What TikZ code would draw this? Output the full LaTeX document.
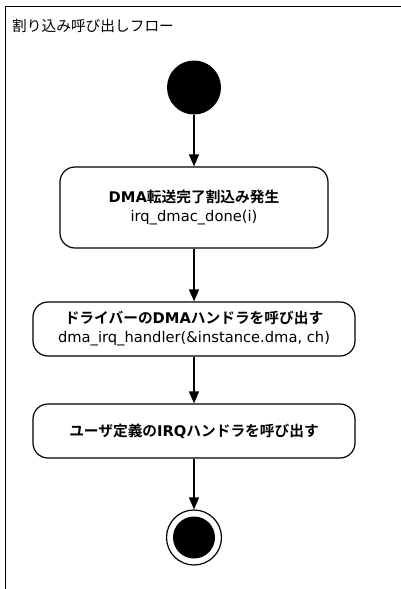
\documentclass[tikz,border=0pt]{standalone}
\usepackage{fontspec}
\setmainfont{DejaVu Sans}
\newfontfamily\jp[BoldFont={Noto Sans CJK JP Bold}]{Noto Sans CJK JP}
\usetikzlibrary{arrows.meta}
\newcommand{\ja}[1]{{\jp #1}}
\begin{document}
\begin{tikzpicture}[x=1pt,y=1pt,font=\fontsize{14.7}{19}\selectfont]

	\tikzstyle{action} = [draw, line width=1.2pt, rounded corners=15pt, minimum width=322pt, minimum height=54pt, align=center, inner sep=0pt];
	\tikzstyle{initial} = [circle, fill=black, minimum size=54pt, inner sep=0pt];
	\tikzstyle{final} = [circle, draw, line width=1.2pt, minimum size=55pt, inner sep=0pt];
	\tikzstyle{flow} = [-{Triangle[length=12pt,width=10pt]}, line width=1.5pt];

	\useasboundingbox (0,0) rectangle (401,-589);
	\draw[line width=1.5pt] (5.5,-589) -- (5.5,-6.5) -- (401,-6.5);
	\node[anchor=west, inner sep=0pt] (title) at (12,-26) {\ja{割り込み呼び出しフロー}};

	\node[initial] (start) at (194,-87.5) {};
	\node[action, below of=start, node distance=120pt, minimum width=268pt, minimum height=81pt] (dmadone) {\textbf{DMA\ja{転送完了割込み発生}}\\irq\_dmac\_done(i)};
	\node[action, below of=dmadone, node distance=121.5pt] (driver) {\textbf{\ja{ドライバーの}DMA\ja{ハンドラを呼び出す}}\\dma\_irq\_handler(\&instance.dma, ch)};
	\node[action, below of=driver, node distance=102pt] (user) {\textbf{\ja{ユーザ定義の}IRQ\ja{ハンドラを呼び出す}}};
	\node[final, below of=user, node distance=106.5pt] (end) {};
	\fill (end.center) circle (21pt);

	\draw[flow] (start) -- (dmadone);
	\draw[flow] (dmadone) -- (driver);
	\draw[flow] (driver) -- (user);
	\draw[flow] (user) -- (end);

\end{tikzpicture}
\end{document}
